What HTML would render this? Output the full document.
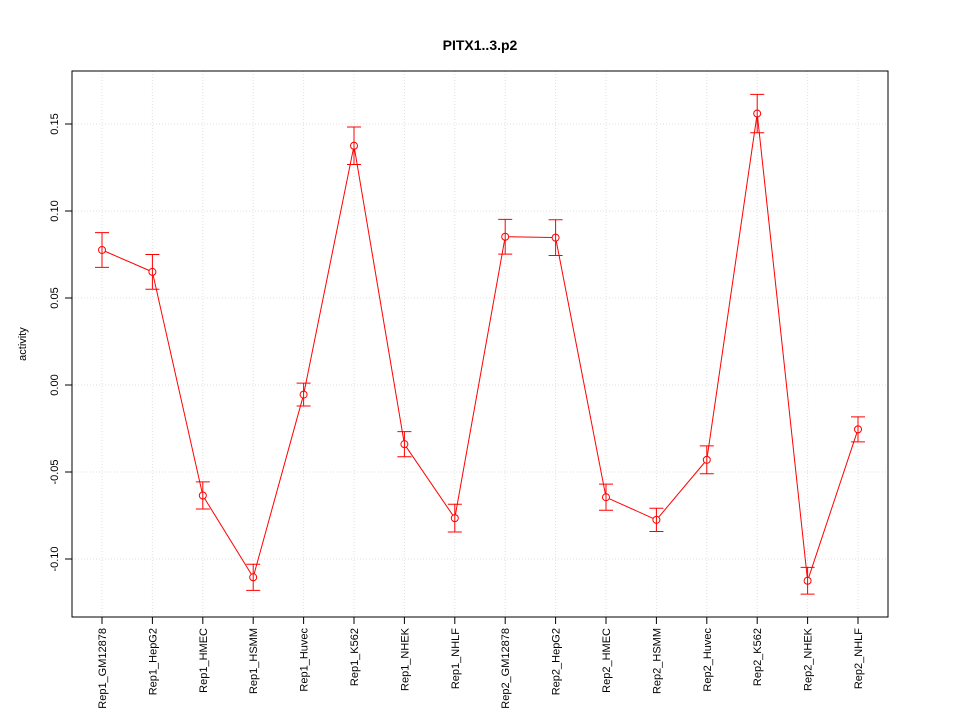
<!DOCTYPE html>
<html><head><meta charset="utf-8"><style>
body{margin:0;background:#fff}
svg text{font-family:"Liberation Sans",Arial,sans-serif}
</style></head><body>
<svg id="chart" width="960" height="720" viewBox="0 0 960 720">
<rect width="960" height="720" fill="#fff"/>
<text x="480" y="50" text-anchor="middle" font-size="14" font-weight="bold">PITX1..3.p2</text>
<text transform="translate(26,344) rotate(-90)" text-anchor="middle" font-size="11">activity</text>
<g id="grid"></g><g id="axes"></g><g id="marks"></g>
<rect x="72" y="71" width="816" height="546" fill="none" stroke="#000"/>
</svg>
<script>
const categories=["Rep1_GM12878","Rep1_HepG2","Rep1_HMEC","Rep1_HSMM","Rep1_Huvec","Rep1_K562","Rep1_NHEK","Rep1_NHLF","Rep2_GM12878","Rep2_HepG2","Rep2_HMEC","Rep2_HSMM","Rep2_Huvec","Rep2_K562","Rep2_NHEK","Rep2_NHLF"];
const values=[0.0776,0.065,-0.0635,-0.1105,-0.0055,0.1375,-0.0340,-0.0765,0.0852,0.0847,-0.0645,-0.0775,-0.0430,0.1560,-0.1125,-0.0255];
const errors=[0.0100,0.0100,0.0078,0.0075,0.0066,0.0108,0.0072,0.0080,0.0100,0.0103,0.0075,0.0067,0.0080,0.0110,0.0077,0.0072];
const yTicks=[-0.10,-0.05,0.00,0.05,0.10,0.15];
const yTickLabels=["-0.10","-0.05","0.00","0.05","0.10","0.15"];
const NS="http://www.w3.org/2000/svg";
const x=i=>102+i*(858-102)/(categories.length-1);
const y=v=>385-v*1740;
function mk(tag,attrs,parent){const e=document.createElementNS(NS,tag);for(const k in attrs)e.setAttribute(k,attrs[k]);parent.appendChild(e);return e;}
const grid=document.getElementById('grid'),axes=document.getElementById('axes'),marks=document.getElementById('marks');
categories.forEach((c,i)=>{
  const g=mk('line',{x1:x(i),x2:x(i),y1:71,y2:617,stroke:'#e0e0e0','stroke-dasharray':'1,2'},grid);
  
  
  const t=mk('line',{x1:x(i),x2:x(i),y1:617,y2:624,stroke:'#000'},axes);
  
  
  const l=mk('text',{transform:`translate(${x(i)+4},628) rotate(-90)`,'text-anchor':'end','font-size':'11'},axes);
  l.textContent=c;
  
  
});
yTicks.forEach((v,i)=>{
  const g=mk('line',{x1:72,x2:888,y1:y(v),y2:y(v),stroke:'#e0e0e0','stroke-dasharray':'1,2'},grid);
  
  
  const t=mk('line',{x1:65,x2:72,y1:y(v),y2:y(v),stroke:'#000'},axes);
  
  
  const l=mk('text',{transform:`translate(58,${y(v)}) rotate(-90)`,'text-anchor':'middle','font-size':'11'},axes);
  l.textContent=yTickLabels[i];
  
  
});
const r=3.5;
for(let i=0;i<values.length-1;i++){
  const x1=x(i),y1=y(values[i]),x2=x(i+1),y2=y(values[i+1]);
  const d=Math.hypot(x2-x1,y2-y1),ux=(x2-x1)/d,uy=(y2-y1)/d;
  const s=mk('line',{x1:x1+ux*r,y1:y1+uy*r,x2:x2-ux*r,y2:y2-uy*r,stroke:'#ff0000'},marks);
  
  
}
values.forEach((v,i)=>{
  const hi=y(v+errors[i]),lo=y(v-errors[i]),cx=x(i);
  const b=mk('path',{d:`M${cx},${hi}V${lo}M${cx-7},${hi}H${cx+7}M${cx-7},${lo}H${cx+7}`,stroke:'#ff0000',fill:'none'},marks);
  
  
  const p=mk('circle',{cx:cx,cy:y(v),r:r,fill:'none',stroke:'#ff0000'},marks);
  
  
});
</script>
</body></html>
